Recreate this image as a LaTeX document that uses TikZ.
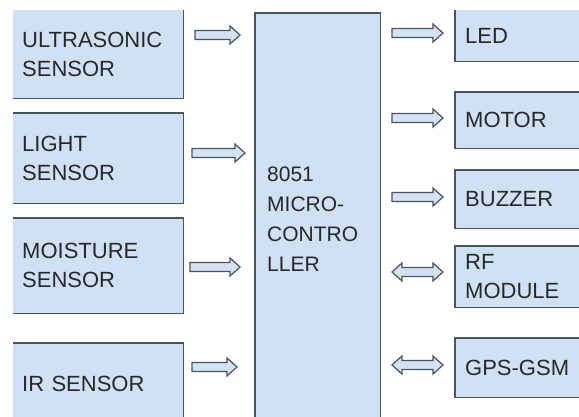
\documentclass[tikz,border=0pt]{standalone}
\usepackage{fontspec}
\setmainfont{Liberation Sans}
\usetikzlibrary{calc}
\definecolor{boxfill}{HTML}{CFE1F3}
\definecolor{edge}{HTML}{4A545E}
\definecolor{txt}{HTML}{25292D}
\definecolor{arrfill}{HTML}{D3E3F3}
\tikzset{
  blk/.style={fill=boxfill, draw=none, anchor=north west, inner ysep=0pt,
    font=\fontsize{22}{29}\selectfont, text=txt, align=left},
  leftblk/.style={blk, minimum width=170pt, inner xsep=9pt, text width=152pt},
  rightblk/.style={blk, minimum width=140pt, inner xsep=10pt, text width=120pt},
  edgeline/.style={draw=edge, line width=1.5pt, line join=miter},
  barrow/.style={draw=edge, fill=arrfill, line width=1.2pt, line join=miter},
}
\newcommand\rarr[2]{\draw[barrow] ($(#1)+(0,-4.5)$) -- ($(#2)+(-10,-4.5)$) -- ($(#2)+(-10,-9)$) -- (#2) -- ($(#2)+(-10,9)$) -- ($(#2)+(-10,4.5)$) -- ($(#1)+(0,4.5)$) -- cycle;}
\newcommand\darr[2]{\draw[barrow] (#1) -- ($(#1)+(10,-9)$) -- ($(#1)+(10,-4.5)$) -- ($(#2)+(-10,-4.5)$) -- ($(#2)+(-10,-9)$) -- (#2) -- ($(#2)+(-10,9)$) -- ($(#2)+(-10,4.5)$) -- ($(#1)+(10,4.5)$) -- ($(#1)+(10,9)$) -- cycle;}
\begin{document}
\begin{tikzpicture}[x=1pt,y=-1pt]
\clip (0,0) rectangle (579,416);
\fill[white] (0,0) rectangle (579,416);
% left boxes
\node[leftblk, minimum height=88pt] (us) at (13,10) {ULTRASONIC\\SENSOR};
\node[leftblk, minimum height=90pt] (light) at (13,113) {LIGHT\\SENSOR};
\node[leftblk, minimum height=95pt] (moist) at (13,218) {MOISTURE\\SENSOR};
\node[leftblk, minimum height=82pt] (ir) at (13,343) {IR SENSOR};
\draw[edgeline] (us.north east) -- (us.south east) -- (us.south west);
\draw[edgeline] (light.north west) -- (light.north east) -- (light.south east) -- (light.south west);
\draw[edgeline] (moist.north west) -- (moist.north east) -- (moist.south east) -- (moist.south west);
\draw[edgeline] (ir.north west) -- (ir.north east) -- (ir.south east);
% microcontroller
\node[blk, minimum width=125pt, minimum height=412pt, inner xsep=12pt, text width=101pt,
  font=\fontsize{21}{30}\selectfont] (mc) at (255,13) {8051\\MICRO-\\CONTRO\\LLER};
\draw[edgeline] (mc.south west) -- (mc.north west) -- (mc.north east) -- (mc.south east);
% right boxes
\node[rightblk, minimum height=51pt] (led) at (455,10) {LED};
\node[rightblk, minimum height=56pt] (motor) at (455,92) {MOTOR};
\node[rightblk, minimum height=58pt] (buzz) at (455,170) {BUZZER};
\node[rightblk, minimum height=61pt] (rf) at (455,246) {RF\\MODULE};
\node[rightblk, minimum height=59pt] (gps) at (455,338) {GPS-GSM};
\draw[edgeline] (led.north west) -- (led.south west) -- (led.south east);
\foreach \n in {motor,buzz,rf,gps}
  \draw[edgeline] (\n.north east) -- (\n.north west) -- (\n.south west) -- (\n.south east);
% arrow end points
\coordinate (usA) at (195,35);   \coordinate (usB) at (240,35);
\coordinate (liA) at (192,153);  \coordinate (liB) at (245,153);
\coordinate (moA) at (190,267);  \coordinate (moB) at (240,267);
\coordinate (irA) at (192,367);  \coordinate (irB) at (237,367);
\coordinate (ledA) at (392,33);  \coordinate (ledB) at (443,33);
\coordinate (motA) at (392,118); \coordinate (motB) at (443,118);
\coordinate (buzA) at (392,197); \coordinate (buzB) at (443,197);
\coordinate (rfA) at (392,272);  \coordinate (rfB) at (443,272);
\coordinate (gpsA) at (392,365); \coordinate (gpsB) at (443,365);
\rarr{usA}{usB}
\rarr{liA}{liB}
\rarr{moA}{moB}
\rarr{irA}{irB}
\rarr{ledA}{ledB}
\rarr{motA}{motB}
\rarr{buzA}{buzB}
\darr{rfA}{rfB}
\darr{gpsA}{gpsB}
\end{tikzpicture}
\end{document}
